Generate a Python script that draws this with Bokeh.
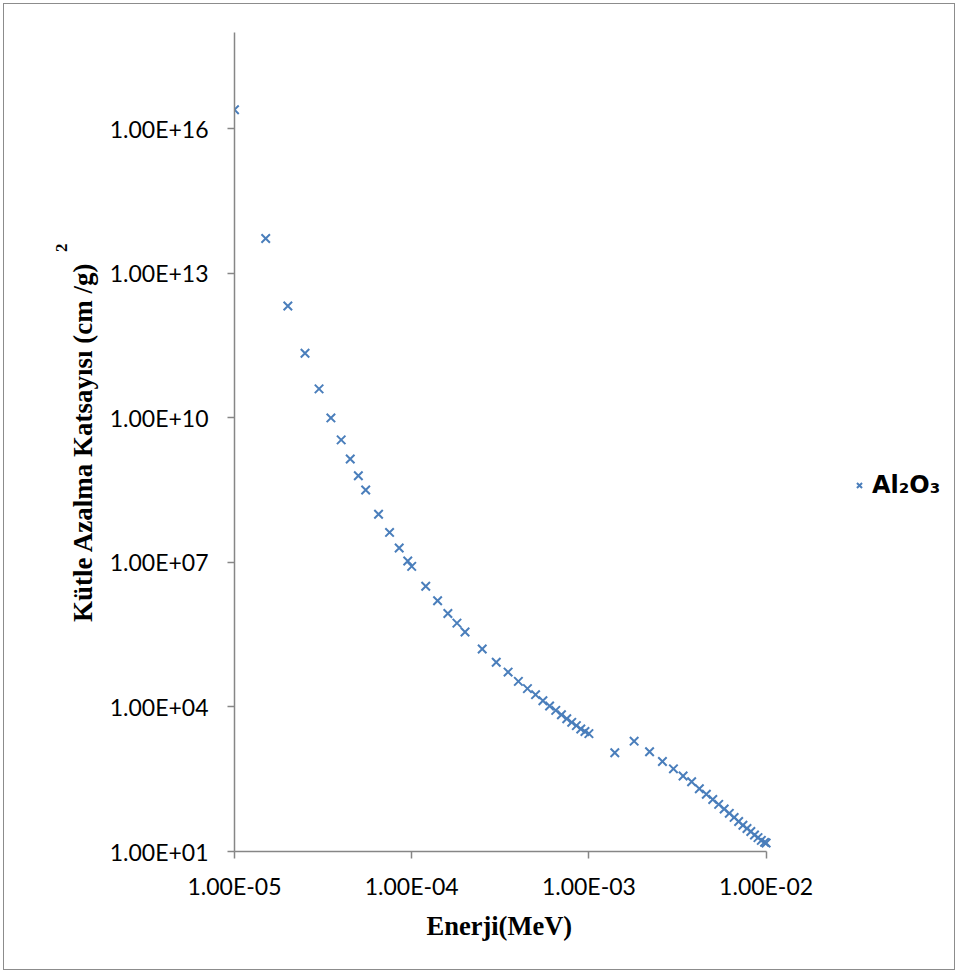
import math
from bokeh.plotting import figure
from bokeh.models import FixedTicker, Legend, LegendItem, Title
from bokeh.embed import file_html
from bokeh.resources import INLINE

# ---- data ----
energy_mev = [1.0e-5, 1.5e-5, 2.0e-5, 2.5e-5, 3.0e-5, 3.5e-5, 4.0e-5, 4.5e-5, 5.0e-5, 5.5e-5,
              6.5e-5, 7.5e-5, 8.5e-5, 9.5e-5, 1.0e-4, 1.2e-4, 1.4e-4, 1.6e-4, 1.8e-4, 2.0e-4,
              2.5e-4, 3.0e-4, 3.5e-4, 4.0e-4, 4.5e-4, 5.0e-4, 5.5e-4, 6.0e-4, 6.5e-4, 7.0e-4,
              7.5e-4, 8.0e-4, 8.5e-4, 9.0e-4, 9.5e-4, 1.0e-3, 1.4e-3, 1.8e-3, 2.2e-3, 2.6e-3,
              3.0e-3, 3.4e-3, 3.8e-3, 4.2e-3, 4.6e-3, 5.0e-3, 5.4e-3, 5.8e-3, 6.2e-3, 6.6e-3,
              7.0e-3, 7.4e-3, 7.8e-3, 8.2e-3, 8.6e-3, 9.0e-3, 9.4e-3, 9.8e-3, 1.0e-2]
mass_atten = [2.5e16, 5.3e13, 2.1e12, 2.2e11, 4.0e10, 1.0e10, 3.5e9, 1.4e9, 6.3e8, 3.2e8,
              1.0e8, 4.2e7, 2.0e7, 1.07e7, 8.3e6, 3.2e6, 1.6e6, 8.7e5, 5.5e5, 3.6e5,
              1.6e5, 8.5e4, 5.3e4, 3.4e4, 2.4e4, 1.8e4, 1.35e4, 1.05e4, 8.5e3, 6.9e3,
              5.7e3, 4.8e3, 4.1e3, 3.5e3, 3.1e3, 2.8e3, 1.12e3, 1.95e3, 1.18e3, 7.4e2,
              5.2e2, 3.7e2, 2.8e2, 2.0e2, 1.54e2, 1.2e2, 95, 76, 62, 51,
              42, 35, 30, 26, 22, 19.4, 17, 15.5, 15]
series_name = "Al₂O₃"

x_ticks = [1e-5, 1e-4, 1e-3, 1e-2]
x_tick_labels = ["1.00E-05", "1.00E-04", "1.00E-03", "1.00E-02"]
y_ticks = [1e1, 1e4, 1e7, 1e10, 1e13, 1e16]
y_tick_labels = ["1.00E+01", "1.00E+04", "1.00E+07", "1.00E+10", "1.00E+13", "1.00E+16"]
x_title = "Enerji(MeV)"
y_title = "Kütle Azalma Katsayısı (cm /g)"
unit_sup = "2"

# ---- layout ----
W, H = 952, 967
LEFT, TOP, BOTTOM = 230, 28, 120
RIGHT = 2
frame_w = W - LEFT - RIGHT
px_per_decade = 177.2            # axis spans 3 decades over ~531 px
x_lo, x_hi_axis = 1e-5, 1e-2
x_hi = 10 ** (math.log10(x_lo) + frame_w / px_per_decade)   # extra room on the right for legend

p = figure(width=W, height=H, x_axis_type="log", y_axis_type="log",
           x_range=(x_lo, x_hi), y_range=(1e1, 1e18),
           output_backend="svg", toolbar_location=None,
           min_border_left=LEFT, min_border_right=RIGHT,
           min_border_top=TOP, min_border_bottom=BOTTOM)
p.styles = {"border": "1px solid #8c8c8c", "margin-left": "3px", "margin-top": "3px"}
p.outline_line_color = None
p.xgrid.visible = False
p.ygrid.visible = False
p.background_fill_color = "white"
p.border_fill_color = "white"

axis_col = "#868686"
for ax in (p.xaxis[0], p.yaxis[0]):
    ax.axis_line_color = axis_col
    ax.axis_line_width = 1.5
    ax.major_tick_line_color = axis_col
    ax.major_tick_line_width = 1.5
    ax.major_tick_in = 0
    ax.major_tick_out = 7
    ax.minor_tick_line_color = None
    ax.major_label_text_font = "Lato"
    ax.major_label_text_font_size = "23px"
    ax.major_label_text_color = "black"
    ax.axis_label_text_font = "Liberation Serif"
    ax.axis_label_text_font_style = "bold"
    ax.axis_label_text_color = "black"

p.xaxis[0].bounds = (x_lo, x_hi_axis)
p.xaxis[0].ticker = FixedTicker(ticks=x_ticks)
p.xaxis[0].major_label_overrides = dict(zip(x_ticks, x_tick_labels))
p.yaxis[0].ticker = FixedTicker(ticks=y_ticks)
p.yaxis[0].major_label_overrides = dict(zip(y_ticks, y_tick_labels))
p.yaxis[0].axis_label = y_title
p.yaxis[0].axis_label_text_font_size = "27px"
p.xaxis[0].major_label_standoff = 13
p.yaxis[0].major_label_standoff = 19
p.yaxis[0].axis_label_standoff = 9

# x-axis title centred under the axis (not under the wider frame)
p.add_layout(Title(text=x_title, align="left", offset=192, standoff=12,
                   text_font="Liberation Serif", text_font_style="bold",
                   text_font_size="26.5px", text_color="black"), "below")

# superscript of the unit, next to the y-axis title
p.add_layout(Title(text=unit_sup, align="right", offset=211, standoff=-18,
                   vertical_align="top",
                   text_font="Liberation Serif", text_font_style="bold",
                   text_font_size="17px", text_color="black"), "left")

r = p.scatter(energy_mev, mass_atten, marker="x", size=12, line_width=2,
              line_color="#4a7ebb")

legend = Legend(items=[LegendItem(label=series_name, renderers=[r])],
                location=(616, 352), glyph_width=18, glyph_height=18,
                label_standoff=4, padding=0, margin=0, spacing=0,
                border_line_color=None, background_fill_alpha=0,
                label_text_font="DejaVu Sans", label_text_font_style="bold",
                label_text_font_size="24px", label_text_color="black")
p.add_layout(legend)

open("out.html", "w").write(file_html(p, INLINE))
